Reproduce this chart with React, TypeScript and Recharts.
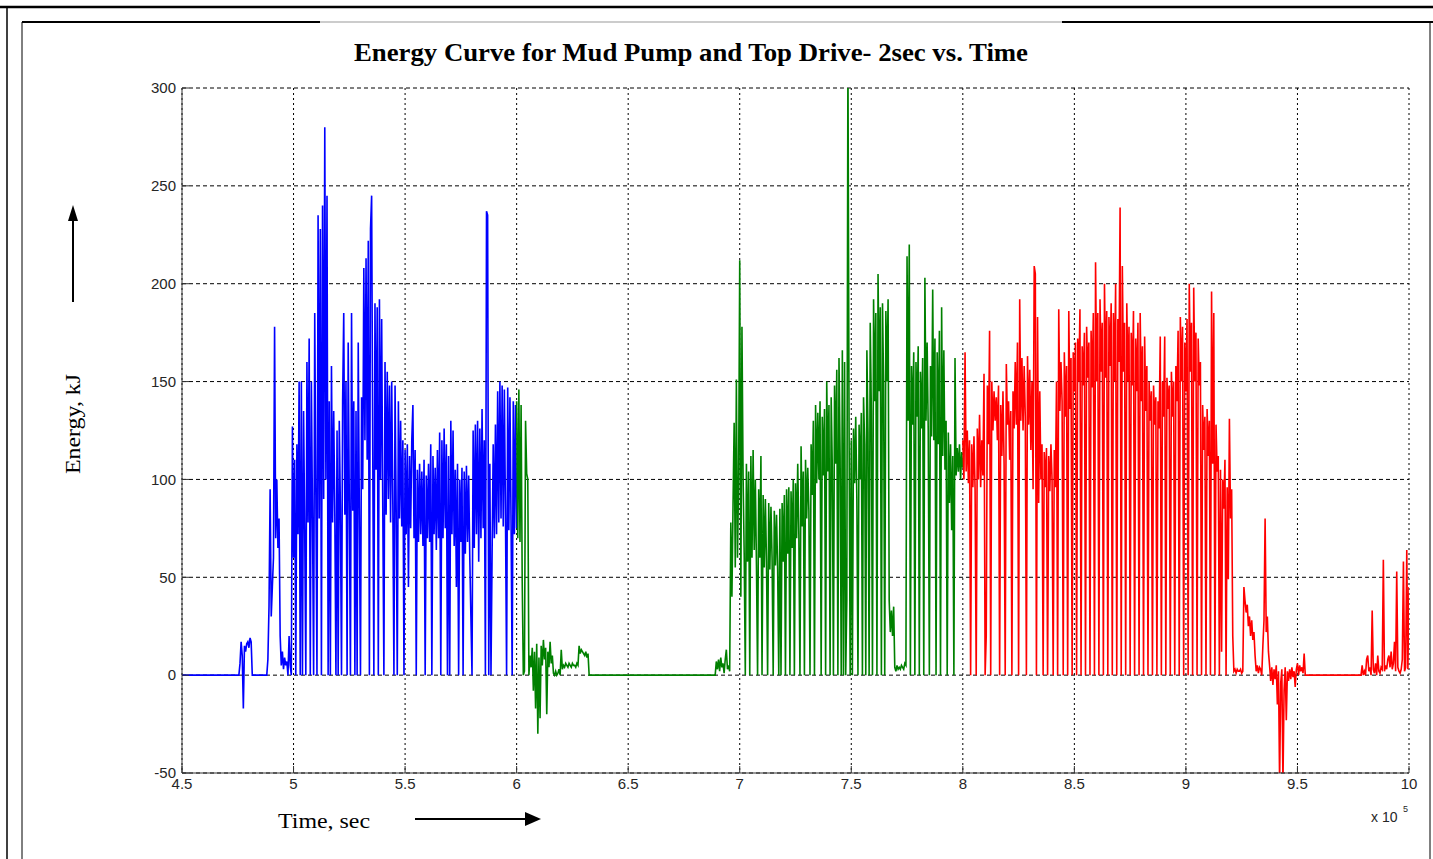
import { LineChart, Line, XAxis, YAxis, CartesianGrid } from 'recharts';

// sampling step of the traces, in units of 10^5 s
const STEP = 0.005;

const xTicks = [4.5, 5, 5.5, 6, 6.5, 7, 7.5, 8, 8.5, 9, 9.5, 10];
const yTicks = [-50, 0, 50, 100, 150, 200, 250, 300];

// mud pump (blue)
const blueStarts = [4.5, 4.755, 4.88];
const blueIdle = [0];
const blueBump = [0, 6, 17, 10, -17, 15, 12, 16, 17, 14, 19, 17, 0];
const blueMain = [
  0, 8, 35, 95, 30, 45, 60, 178, 70, 100, 65, 80, 20, 5, 12, 3, 9, 5, 7, 0, 20, 5, 0, 127, 60,
  110, 0, 118, 72, 150, 0, 150, 0, 135, 75,
  0, 160, 78, 172, 0, 150, 80, 0, 185, 92,
  0, 235, 80, 228, 0, 240, 90, 280, 100, 245,
  0, 140, 0, 158, 78, 135, 82, 0, 125, 0,
  130, 85, 0, 140, 185, 82, 150, 0, 170, 88,
  0, 185, 84, 140, 0, 135, 0, 170, 82, 0,
  142, 95, 208, 120, 213, 110, 222, 0, 228, 245,
  115, 0, 190, 105, 188, 0, 192, 100, 182, 85,
  0, 160, 82, 155, 90, 148, 78, 150, 88, 0,
  148, 85, 0, 140, 80, 130, 76, 120, 0, 115,
  72, 118, 45, 112, 75, 120, 138, 70, 115, 0,
  105, 68, 108, 72, 104, 66, 110, 0, 102, 70,
  108, 68, 118, 0, 112, 72, 106, 64, 115, 70,
  124, 0, 120, 70, 126, 75, 118, 0, 112, 0,
  130, 72, 125, 66, 105, 45, 108, 0, 100, 68,
  106, 0, 104, 62, 107, 68, 102, 60, 30, 0,
  125, 65, 128, 72, 130, 58, 126, 70, 136, 75,
  120, 0, 237, 235, 0, 108, 0, 62, 118, 70,
  128, 72, 145, 78, 150, 80, 148, 76, 146, 82,
  0, 147, 74, 142, 78, 0, 140, 72, 138, 75,
];

// top drive (green)
const greenStarts = [6.0, 6.89];
const greenTail = [
  140, 70, 146, 68, 138, 48, 0, 2, 130, 103, 100, 0,
  10, 4, 14, -8, 12, -17, 16, -30, 9, -22, 15, 5, 18, 8, 14, -20, 12, 4, 17, 6, 10,
  1, 0, 2, 0, 1, 3, 0, 13, 3, 5, 4, 6, 5, 4, 6, 5, 4, 6, 5, 5, 4, 6, 5,
  15, 11, 13, 12, 11, 10, 12, 9, 11, 0,
];
const greenMain = [
  0, 7, 3, 8, 2, 9, 4, 6, 1, 8, 13, 3, 5, 2, 78, 40, 87, 129, 55, 151, 60, 100, 212, 40, 178,
  102, 62, 0, 108, 58, 104, 0, 112, 60, 115,
  64, 100, 56, 0, 95, 60, 112, 0, 92, 55,
  90, 58, 0, 88, 54, 86, 60, 0, 84, 56,
  82, 54, 0, 85, 0, 88, 58, 92, 0, 95,
  62, 96, 0, 94, 65, 100, 0, 98, 70, 108,
  72, 0, 117, 76, 104, 0, 110, 80, 106, 84,
  0, 118, 92, 130, 0, 138, 98, 134, 100, 140,
  0, 132, 102, 136, 0, 150, 104, 138, 0, 142,
  106, 0, 148, 108, 156, 0, 162, 112, 0, 166,
  0, 160, 0, 38, 320, 130, 0, 120, 0, 126,
  98, 132, 90, 0, 128, 100, 134, 0, 142, 118,
  0, 166, 124, 0, 180, 135, 0, 192, 140, 185,
  0, 205, 145, 188, 0, 190, 148, 0, 186, 150,
  192, 38, 22, 33, 20, 35, 4, 2, 5, 3,
  4, 3, 5, 4, 3, 6, 5, 214, 130, 220,
  0, 158, 128, 165, 0, 160, 132, 168, 0, 155,
  126, 162, 0, 203, 130, 170, 125, 0, 158, 122,
  197, 120, 172, 0, 165, 118, 176, 0, 188, 112,
  166, 105, 130, 0, 124, 88, 118, 74, 112, 0,
  162, 102, 116, 104, 118, 100, 114, 106,
];

// combined (red)
const redStarts = [8.0, 9.785];
const redMain = [
  120, 100, 165, 104, 125, 98, 120, 0, 118, 96,
  122, 95, 0, 126, 100, 133, 96, 120, 102, 154,
  0, 20, 148, 118, 176, 0, 150, 125, 145, 130,
  142, 120, 148, 0, 138, 112, 145, 108, 0, 159,
  128, 140, 110, 135, 0, 145, 126, 160, 128, 170,
  0, 192, 130, 162, 125, 158, 132, 0, 163, 128,
  156, 115, 150, 95, 209, 205, 0, 183, 88, 145,
  100, 118, 0, 114, 96, 116, 0, 112, 94, 118,
  100, 0, 115, 96, 150, 0, 187, 135, 160, 140,
  0, 165, 132, 158, 0, 186, 136, 162, 0, 165,
  145, 170, 0, 172, 150, 187, 0, 168, 148, 175,
  0, 178, 152, 170, 0, 176, 147, 185, 0, 211,
  150, 185, 0, 192, 155, 180, 0, 200, 152, 186,
  0, 183, 158, 190, 0, 185, 150, 200, 0, 182,
  160, 239, 0, 209, 155, 180, 0, 190, 150, 178,
  0, 175, 148, 186, 0, 172, 145, 180, 0, 185,
  140, 168, 0, 173, 135, 158, 0, 150, 130, 145,
  0, 148, 128, 142, 0, 140, 126, 173, 0, 150,
  132, 173, 0, 152, 136, 148, 0, 155, 132, 150,
  0, 158, 140, 176, 0, 183, 150, 178, 0, 170,
  145, 182, 0, 200, 155, 180, 0, 198, 150, 175,
  0, 172, 148, 160, 0, 138, 115, 132, 0, 136,
  112, 130, 0, 196, 108, 185, 0, 128, 104, 112,
  0, 105, 12, 100, 85, 110, 0, 96, 49, 131,
  80, 95, 20, 2, 3, 1, 3, 2, 2, 3,
  1, 2, 45, 38, 32, 36, 25, 30, 20, 28,
  18, 22, 10, 2, 5, 1, 4, 3, 0, 15,
  28, 80, 22, 30, 12, 5, -3, 4, -5, 3,
  -2, 5, -15, 2, -55, -4, 3, -55, -8, 4,
  -23, 2, -3, 3, -2, 4, -1, 2, -6, 3,
  6, 0, 5, 2, 4, 1, 11, 0, 0,
];
const redEnd = [
  0, 5, 0, 2, 0, 8, 10, 2, 4, 0, 33, 3, 1, 6, 0, 10, 2, 1, 4, 3, 59, 2,
  5, 3, 8, 10, 4, 12, 3, 6, 17, 2, 53, 4, 2, 1, 3, 8, 58, 2, 4, 64, 3, 45,
];

function buildSeries(starts: number[], runs: number[][]) {
  const pts: { t: number; v: number }[] = [];
  runs.forEach((run, k) => {
    run.forEach((v, i) => pts.push({ t: +(starts[k] + i * STEP).toFixed(3), v }));
  });
  return pts;
}

const blueData = buildSeries(blueStarts, [blueIdle, blueBump, blueMain]);
const greenData = buildSeries(greenStarts, [greenTail, greenMain]);
const redData = buildSeries(redStarts, [redMain, redEnd]);

const tickFont = { fontSize: 15, fill: '#262626', fontFamily: 'Liberation Sans, Arial, sans-serif' };
const serif = 'Liberation Serif, Times New Roman, serif';

export default function App() {
  return (
    <div style={{ position: 'absolute', left: 0, top: 0, width: 1433, height: 859, background: '#fff', overflow: 'hidden' }}>
      <LineChart
        width={1433}
        height={859}
        margin={{ top: 88, right: 24, bottom: 56, left: 132 }}
        style={{ position: 'absolute', left: 0, top: 0 }}
      >
        <XAxis
          dataKey="t"
          type="number"
          domain={[4.5, 10]}
          ticks={xTicks}
          interval={0}
          allowDataOverflow
          height={30}
          tickSize={-7}
          tickMargin={12}
          tick={tickFont}
          axisLine={{ stroke: '#333' }}
          tickLine={{ stroke: '#333' }}
        />
        <XAxis
          xAxisId="top"
          orientation="top"
          type="number"
          domain={[4.5, 10]}
          ticks={xTicks}
          interval={0}
          allowDataOverflow
          height={0}
          tickSize={-7}
          tick={false}
          axisLine={{ stroke: '#333' }}
          tickLine={{ stroke: '#333' }}
        />
        <YAxis
          type="number"
          domain={[-50, 300]}
          ticks={yTicks}
          interval={0}
          allowDataOverflow
          width={50}
          tickSize={-7}
          tickMargin={13}
          tick={tickFont}
          axisLine={{ stroke: '#333' }}
          tickLine={{ stroke: '#333' }}
        />
        <YAxis
          yAxisId="right"
          orientation="right"
          type="number"
          domain={[-50, 300]}
          ticks={yTicks}
          interval={0}
          allowDataOverflow
          width={0}
          tickSize={-7}
          tick={false}
          axisLine={{ stroke: '#333' }}
          tickLine={{ stroke: '#333' }}
        />
        <Line data={blueData} dataKey="v" type="linear" stroke="#0000ff" strokeWidth={1.6} dot={false} activeDot={false} isAnimationActive={false} />
        <Line data={greenData} dataKey="v" type="linear" stroke="#008000" strokeWidth={1.6} dot={false} activeDot={false} isAnimationActive={false} />
        <Line data={redData} dataKey="v" type="linear" stroke="#ff0000" strokeWidth={1.6} dot={false} activeDot={false} isAnimationActive={false} />
        <CartesianGrid vertical={false} stroke="#000" strokeDasharray="4 3" />
        <CartesianGrid horizontal={false} stroke="#000" strokeDasharray="2 3" />
      </LineChart>
      <svg width={1433} height={859} style={{ position: 'absolute', left: 0, top: 0, pointerEvents: 'none' }}>
        {/* page frame */}
        <line x1={0} y1={7} x2={1433} y2={7} stroke="#000" strokeWidth={2.5} />
        <line x1={7} y1={7} x2={7} y2={859} stroke="#000" strokeWidth={1.5} />
        <line x1={22} y1={22} x2={320} y2={22} stroke="#000" strokeWidth={2} />
        <line x1={320} y1={22} x2={1062} y2={22} stroke="#999" strokeWidth={1} />
        <line x1={1062} y1={22} x2={1433} y2={22} stroke="#000" strokeWidth={2} />
        <line x1={22} y1={22} x2={22} y2={859} stroke="#000" strokeWidth={1} />
        <line x1={1430} y1={22} x2={1430} y2={859} stroke="#000" strokeWidth={1} />

        <text x={691} y={61} textAnchor="middle" fontFamily={serif} fontWeight="bold" fontSize={26} textLength={674} lengthAdjust="spacingAndGlyphs">
          Energy Curve for Mud Pump and Top Drive- 2sec vs. Time
        </text>

        <text x={80} y={424} textAnchor="middle" fontFamily={serif} fontSize={22} transform="rotate(-90 80 424)" textLength={100} lengthAdjust="spacingAndGlyphs">
          Energy, kJ
        </text>
        <line x1={73} y1={302} x2={73} y2={218} stroke="#000" strokeWidth={2} />
        <polygon points="73,205 68,221 78,221" fill="#000" />

        <text x={278} y={828} fontFamily={serif} fontSize={22} textLength={92} lengthAdjust="spacingAndGlyphs">
          Time, sec
        </text>
        <line x1={415} y1={819} x2={528} y2={819} stroke="#000" strokeWidth={2} />
        <polygon points="541,819 525,812 525,826" fill="#000" />

        <text x={1371} y={822} fontFamily="Liberation Sans, Arial, sans-serif" fontSize={14} fill="#262626">
          x 10
        </text>
        <text x={1403} y={812} fontFamily="Liberation Sans, Arial, sans-serif" fontSize={9} fill="#262626">
          5
        </text>
      </svg>
    </div>
  );
}
